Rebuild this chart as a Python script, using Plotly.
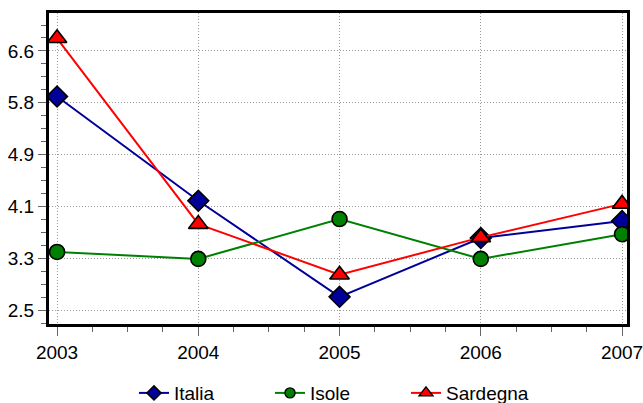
import plotly.graph_objects as go

years = [2003, 2004, 2005, 2006, 2007]
italia = [5.86, 4.21, 2.69, 3.62, 3.89]
isole = [3.40, 3.29, 3.92, 3.29, 3.68]
sardegna = [6.78, 3.84, 3.04, 3.63, 4.16]

y_tickvals = [2.48, 3.30, 4.12, 4.94, 5.76, 6.58]
y_ticktext = ["2.5", "3.3", "4.1", "4.9", "5.8", "6.6"]

FONT = "Liberation Sans"

fig = go.Figure()

series = [
    ("Italia", italia, "#000099", "diamond", 16, 11),
    ("Isole", isole, "#008000", "circle", 15, 10),
    ("Sardegna", sardegna, "#ff0000", "triangle-up", 17, 12),
]
for name, vals, color, symbol, size, legsize in series:
    fig.add_trace(go.Scatter(
        x=years, y=vals, name=name, mode="lines+markers", showlegend=False,
        line=dict(color=color, width=2),
        marker=dict(symbol=symbol, size=size, color=color,
                    line=dict(color="black", width=1.6)),
    ))
    # legend-only entry with the smaller symbol used in the key
    fig.add_trace(go.Scatter(
        x=[None], y=[None], name=name, mode="lines+markers",
        line=dict(color=color, width=2),
        marker=dict(symbol=symbol, size=legsize, color=color,
                    line=dict(color="black", width=1.4)),
    ))

fig.update_layout(
    width=643, height=403,
    margin=dict(l=49, r=16, t=13, b=79, autoexpand=False),
    paper_bgcolor="white", plot_bgcolor="white",
    font=dict(family=FONT, size=19, color="black"),
    showlegend=True,
    legend=dict(orientation="h", x=0.5, xanchor="center", y=-0.222, yanchor="middle",
                font=dict(size=19), entrywidth=91, entrywidthmode="pixels",
                itemwidth=30),
)
fig.update_xaxes(
    range=[2002.943, 2007.035],
    tickvals=years, ticks="outside", ticklen=9, tickwidth=1, tickcolor="#666",
    ticklabeloverflow="allow",
    showline=True, linecolor="black", linewidth=3, mirror=True,
    showgrid=True, gridcolor="#999", griddash="1px,2px", gridwidth=1,
    zeroline=False,
    minor=dict(dtick=0.25, tick0=2003, ticks="outside", ticklen=5, tickcolor="#666", showgrid=False),
)
fig.update_yaxes(
    range=[2.26, 7.18],
    tickvals=y_tickvals, ticktext=y_ticktext,
    ticks="outside", ticklen=8, tickwidth=1, tickcolor="#666",
    showline=True, linecolor="black", linewidth=3, mirror=True,
    showgrid=True, gridcolor="#999", griddash="1px,2px", gridwidth=1,
    zeroline=False,
    minor=dict(dtick=0.205, tick0=2.48, ticks="outside", ticklen=5, tickcolor="#666", showgrid=False),
)

# page body has a default 8px margin; drop it so the figure fills the window
fig.write_html("out.html", config={"displayModeBar": False},
               post_script="document.body.style.margin='0';")
